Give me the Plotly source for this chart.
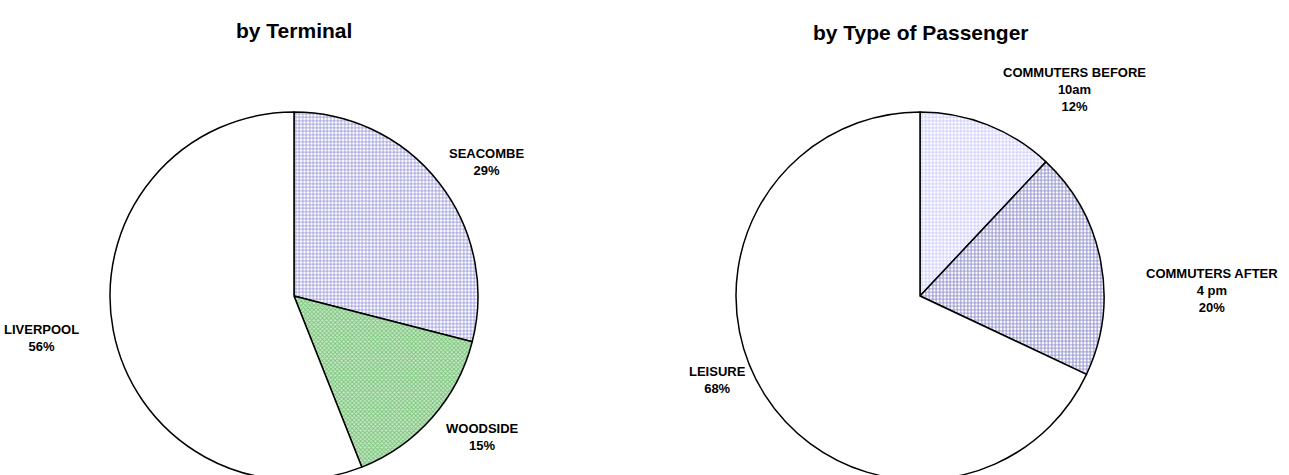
import plotly.graph_objects as go

terminal_labels = ["SEACOMBE", "WOODSIDE", "LIVERPOOL"]
terminal_values = [29, 15, 56]

passenger_labels = ["COMMUTERS BEFORE<br>10am", "COMMUTERS AFTER<br>4 pm", "LEISURE"]
passenger_values = [12, 20, 68]

FONT = "Liberation Sans, Arial, sans-serif"
W, H = 1289, 484  # a little taller than the window so the pies run off the bottom

fig = go.Figure()

# left pie - terminals
fig.add_trace(go.Pie(
    labels=terminal_labels,
    values=terminal_values,
    sort=False,
    direction="clockwise",
    rotation=0,
    textinfo="none",
    hoverinfo="label+percent",
    showlegend=False,
    domain=dict(x=[110 / W, 478 / W], y=[(H - 480) / H, (H - 112) / H]),
    marker=dict(
        colors=["white", "#c4e6c4", "white"],
        line=dict(color="black", width=1.5),
        pattern=dict(
            shape=["+", "x", ""],
            fgcolor=["#8f8fd6", "#79c479", "white"],
            bgcolor=["white", "#c8e8c8", "white"],
            size=[3.5, 3, 4],
            solidity=[0.4, 0.5, 0.3],
        ),
    ),
))

# right pie - passenger type
fig.add_trace(go.Pie(
    labels=passenger_labels,
    values=passenger_values,
    sort=False,
    direction="clockwise",
    rotation=0,
    textinfo="none",
    hoverinfo="label+percent",
    showlegend=False,
    domain=dict(x=[736 / W, 1104 / W], y=[(H - 480) / H, (H - 112) / H]),
    marker=dict(
        colors=["white", "white", "white"],
        line=dict(color="black", width=1.5),
        pattern=dict(
            shape=["+", "+", ""],
            fgcolor=["#c4c4ff", "#8e8ecc", "white"],
            bgcolor=["white", "white", "white"],
            size=[3.5, 3.5, 4],
            solidity=[0.4, 0.5, 0.3],
        ),
    ),
))

# slice labels (text + percentage) placed beside the pies
terminal_pos = [(486, 162), (482, 437), (41, 338)]
passenger_pos = [(1074, 89), (1212, 290), (717, 380)]

for lab, val, (px_, py_) in zip(terminal_labels + passenger_labels,
                                terminal_values + passenger_values,
                                terminal_pos + passenger_pos):
    fig.add_annotation(
        x=px_ / W, y=1 - py_ / H, xref="paper", yref="paper",
        text="<b>%s<br>%d%%</b>" % (lab, val),
        showarrow=False, xanchor="center", yanchor="middle",
        font=dict(family=FONT, size=13, color="black"),
    )

for title, cx, cy in [("by Terminal", 294, 30), ("by Type of Passenger", 921, 33)]:
    fig.add_annotation(
        x=cx / W, y=1 - cy / H, xref="paper", yref="paper",
        text="<b>%s</b>" % title, showarrow=False,
        xanchor="center", yanchor="middle",
        font=dict(family=FONT, size=21, color="black"),
    )

fig.update_layout(
    width=W,
    height=H,
    margin=dict(l=0, r=0, t=0, b=0),
    paper_bgcolor="white",
    plot_bgcolor="white",
    font=dict(family=FONT, color="black"),
)

fig.write_html(
    "out.html",
    config={"displayModeBar": False},
    post_script="document.body.style.margin='0';document.body.style.overflow='hidden';",
)
